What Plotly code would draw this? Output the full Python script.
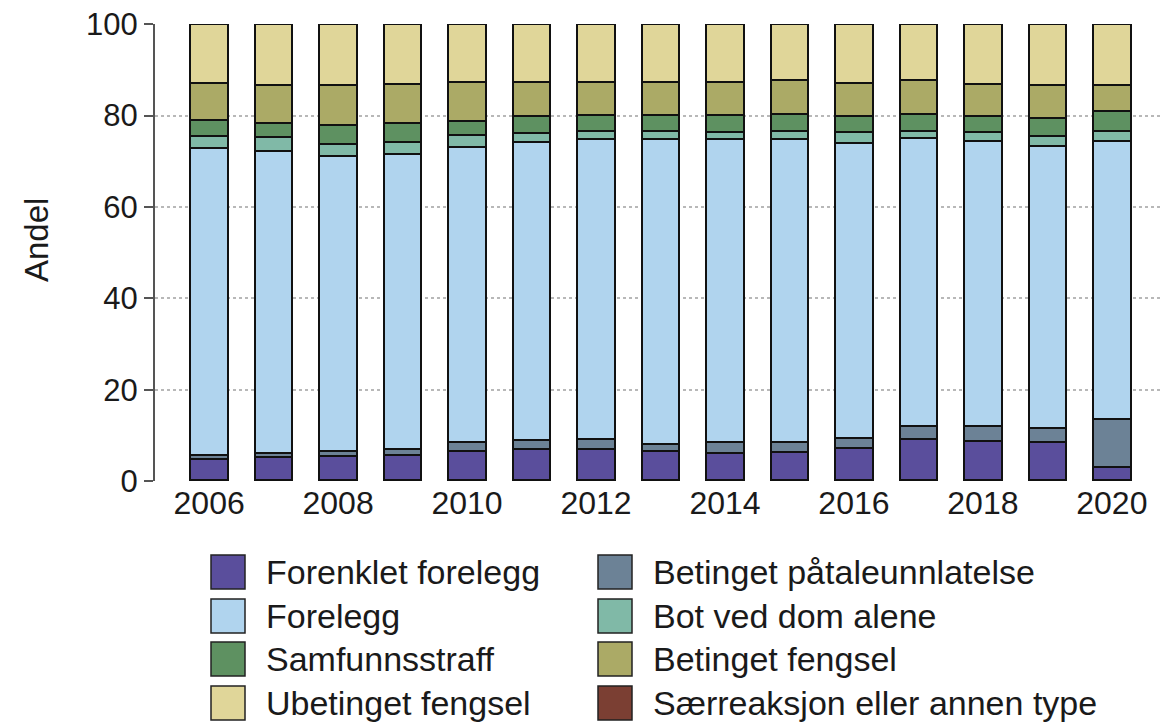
import plotly.graph_objects as go

years = list(range(2006, 2021))

saerreaksjon = [0.2] * 15
forenklet_forelegg = [4.7, 5.1, 5.3, 5.4, 6.4, 6.8, 6.8, 6.4, 6.0, 6.2, 7.1, 9.1, 8.6, 8.4, 2.9]
betinget_patale = [0.9, 0.9, 1.1, 1.4, 1.9, 2.0, 2.1, 1.5, 2.4, 2.2, 2.2, 2.8, 3.3, 2.9, 10.5]
forelegg = [67.1, 66.1, 64.5, 64.6, 64.7, 65.2, 65.7, 66.7, 66.2, 66.2, 64.5, 62.9, 62.4, 61.9, 60.9]
bot_ved_dom = [2.7, 3.0, 2.7, 2.7, 2.6, 2.0, 1.9, 1.9, 1.7, 1.9, 2.4, 1.7, 2.0, 2.2, 2.2]
samfunnsstraff = [3.5, 3.1, 4.2, 4.1, 3.1, 3.8, 3.4, 3.4, 3.6, 3.7, 3.5, 3.7, 3.4, 3.8, 4.2]
betinget_fengsel = [8.0, 8.3, 8.7, 8.5, 8.4, 7.4, 7.3, 7.2, 7.2, 7.3, 7.2, 7.3, 7.0, 7.3, 5.9]
ubetinget_fengsel = [12.9, 13.3, 13.3, 13.1, 12.7, 12.6, 12.6, 12.7, 12.7, 12.3, 12.9, 12.3, 13.1, 13.3, 13.2]

y_title = "Andel"

# stacking order (bottom -> top)
series = [
    ("Særreaksjon eller annen type", saerreaksjon, "#7b3f33"),
    ("Forenklet forelegg", forenklet_forelegg, "#5a4e9c"),
    ("Betinget påtaleunnlatelse", betinget_patale, "#6c8296"),
    ("Forelegg", forelegg, "#b0d4ee"),
    ("Bot ved dom alene", bot_ved_dom, "#80b9a7"),
    ("Samfunnsstraff", samfunnsstraff, "#5e9161"),
    ("Betinget fengsel", betinget_fengsel, "#abaa66"),
    ("Ubetinget fengsel", ubetinget_fengsel, "#e0d699"),
]

# legend layout: column-wise order as in reference
legend_cols = [
    ["Forenklet forelegg", "Forelegg", "Samfunnsstraff", "Ubetinget fengsel"],
    ["Betinget påtaleunnlatelse", "Bot ved dom alene", "Betinget fengsel", "Særreaksjon eller annen type"],
]

FONT = "Liberation Sans, Arial, sans-serif"

fig = go.Figure()
for name, vals, color in series:
    fig.add_trace(go.Bar(
        x=years, y=vals, name=name, width=0.58,
        marker=dict(color=color, line=dict(color="#111111", width=2)),
        showlegend=False,
    ))

# page body adds an 8px offset; figure is sized to fit the window
OFF = 8
W, H = 1171 - OFF, 725 - OFF
ml, mr, mt, mb = 155 - OFF, 5, 24 - OFF, 244
pw, ph = W - ml - mr, H - mt - mb

def sx(px):  # screen x -> paper
    return (px - OFF - ml) / pw

def sy(py):  # screen y -> paper
    return (H - mb - (py - OFF)) / ph

colors = {n: c for n, _, c in series}
shapes = []
annotations = []
col_sq_x = [211, 598]
col_txt_x = [264, 651]
row_y = [572, 616, 659, 703]
sq = 34
for ci, col in enumerate(legend_cols):
    for ri, name in enumerate(col):
        cy = row_y[ri]
        shapes.append(dict(
            type="rect", xref="paper", yref="paper",
            x0=sx(col_sq_x[ci]), x1=sx(col_sq_x[ci] + sq),
            y0=sy(cy + sq / 2), y1=sy(cy - sq / 2),
            fillcolor=colors[name], line=dict(color="#222222", width=1.5),
        ))
        annotations.append(dict(
            xref="paper", yref="paper", x=sx(col_txt_x[ci]), y=sy(cy),
            xanchor="left", yanchor="middle", text=name, showarrow=False,
            font=dict(size=34, color="#1a1a1a", family=FONT),
        ))

# y-axis title
annotations.append(dict(
    xref="paper", yref="paper", x=sx(36), y=sy(240),
    xanchor="center", yanchor="middle", text=y_title, textangle=-90, showarrow=False,
    font=dict(size=33, color="#1a1a1a", family=FONT),
))

fig.update_layout(
    width=W, height=H,
    barmode="stack", bargap=0.4,
    plot_bgcolor="white", paper_bgcolor="white",
    margin=dict(l=ml, r=mr, t=mt, b=mb, autoexpand=False),
    font=dict(family=FONT, color="#1a1a1a"),
    shapes=shapes, annotations=annotations,
    showlegend=False,
)
fig.update_xaxes(
    range=[2005.16, 2020.84], tickmode="array", tickvals=list(range(2006, 2021, 2)),
    showgrid=False, showline=False, zeroline=False, ticks="", tickfont=dict(size=32),
)
fig.update_yaxes(
    range=[0, 100.05], tickvals=[0, 20, 40, 60, 80, 100],
    showgrid=True, gridcolor="#b8b8b8", griddash="dot", gridwidth=1.5,
    zeroline=False, showline=True, linecolor="#555555", linewidth=2,
    ticks="outside", ticklen=9, tickcolor="#555555", tickwidth=2,
    tickfont=dict(size=31), ticklabeloverflow="allow",
)

fig.write_html("out.html")
